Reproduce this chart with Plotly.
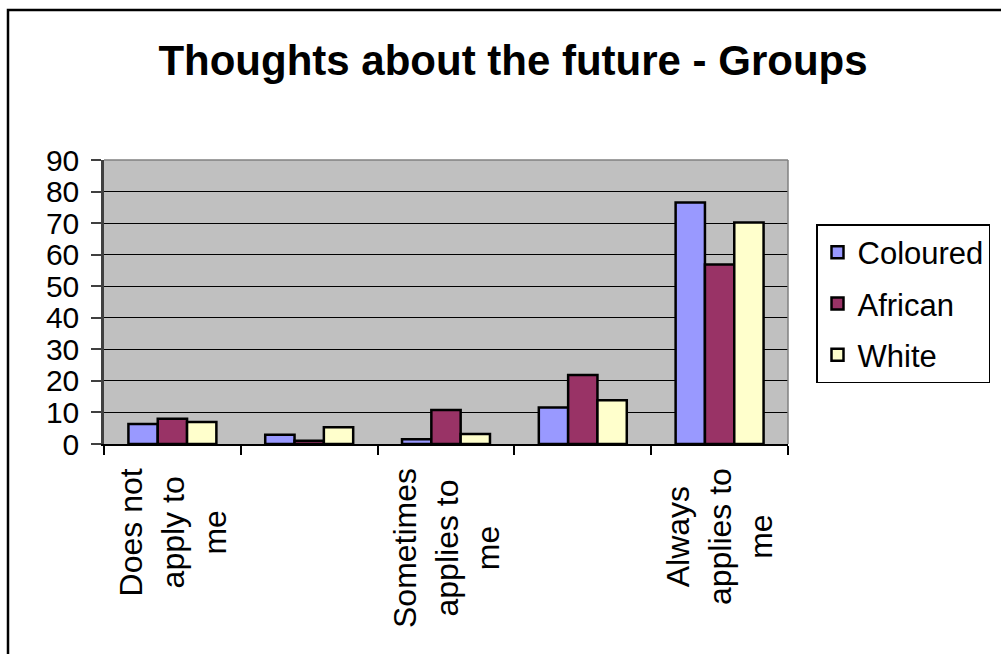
import plotly.graph_objects as go

categories = ["Does not<br>apply to<br>me", " ", "Sometimes<br>applies to<br>me", "  ", "Always<br>applies to<br>me"]
coloured = [6.3, 2.9, 1.5, 11.6, 76.5]
african = [8.0, 1.0, 10.8, 21.9, 56.9]
white = [7.0, 5.3, 3.2, 13.9, 70.2]
series = [("Coloured", coloured, "#9999FF"), ("African", african, "#993366"), ("White", white, "#FFFFCC")]
y_ticks = list(range(0, 91, 10))

W, H = 1001, 654
L, R, T, B = 104, 788, 160, 444
pw, ph = R - L, B - T

fig = go.Figure()
for name, vals, col in series:
    fig.add_trace(go.Bar(
        x=categories, y=vals, name=name, legendgroup=name,
        marker=dict(color=col, line=dict(color="black", width=2.5)),
    ))

FONT = "Liberation Sans, Arial, sans-serif"

annotations = []
for c in categories:
    if c.strip():
        annotations.append(dict(
            x=c, xref="x", y=0, yref="paper", yanchor="top", xanchor="center",
            yshift=-22, text=c, textangle=-90, showarrow=False, align="center",
            font=dict(family=FONT, size=32, color="black"),
        ))

fig.update_layout(
    width=W, height=H,
    margin=dict(l=L, r=W - R, t=T, b=H - B, autoexpand=False),
    paper_bgcolor="white", plot_bgcolor="#C0C0C0",
    barmode="group", bargap=0.357, bargroupgap=0,
    title=dict(text="<b>Thoughts about the future - Groups</b>", x=513 / W, xanchor="center",
               xref="container",
               y=1 - 60 / H, yref="container", yanchor="middle",
               font=dict(family=FONT, size=42, color="black")),
    font=dict(family=FONT, color="black"),
    showlegend=True,
    legend=dict(x=(816 - L) / pw, xanchor="left", y=(B - 224) / ph, yanchor="top",
                bgcolor="white", bordercolor="black", borderwidth=1.5,
                font=dict(family=FONT, size=31, color="black"),
                traceorder="grouped", tracegroupgap=8),
    xaxis=dict(type="category", showticklabels=False, tickson="boundaries",
               ticks="outside", ticklen=9, tickcolor="black", tickwidth=1.5,
               showline=True, linecolor="black", linewidth=1.5, showgrid=False,
               zeroline=False),
    yaxis=dict(range=[0, 90], tickvals=y_ticks, ticks="outside", ticklen=10,
               tickcolor="#404040", tickwidth=2, ticklabelstandoff=6,
               showline=True, linecolor="#404040", linewidth=2.5,
               showgrid=True, gridcolor="black", gridwidth=1, zeroline=False,
               tickfont=dict(family=FONT, size=30, color="black")),
    annotations=annotations,
    shapes=[
        dict(type="line", xref="paper", yref="paper", x0=1, x1=1, y0=0, y1=1,
             line=dict(color="#808080", width=1.5)),
        dict(type="line", xref="paper", yref="paper", x0=0, x1=1, y0=1, y1=1,
             line=dict(color="#808080", width=1.5)),
        dict(type="rect", xref="paper", yref="paper",
             x0=(8 - L) / pw, x1=(W + 20 - L) / pw,
             y0=(B - (H + 20)) / ph, y1=(B - 10) / ph,
             line=dict(color="black", width=2.5), layer="above"),
    ],
)

fig.write_html("out.html")
